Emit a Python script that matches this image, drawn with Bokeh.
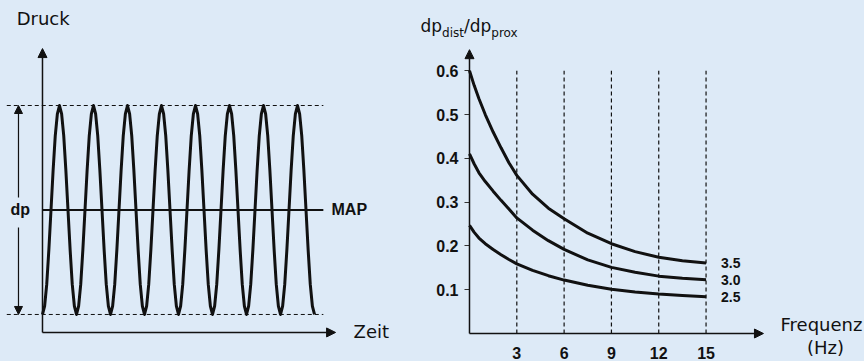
import numpy as np
from bokeh.plotting import figure
from bokeh.models import Range1d, Arrow, NormalHead, Label, FixedTicker, LinearAxis, GlobalInlineStyleSheet
from bokeh.layouts import row
from bokeh.embed import file_html
from bokeh.resources import INLINE
from bokeh.core.properties import value

# ---------------- data: left panel (pressure oscillation around MAP) ----------------
PRESSURE_CYCLE = [-1.0, -0.92, -0.71, -0.38, 0.0, 0.38, 0.71, 0.92,
                  1.0, 0.92, 0.71, 0.38, 0.0, -0.38, -0.71, -0.92]
N_CYCLES = 8
MAP_LEVEL = 0.0
P_MAX = 1.0
P_MIN = -1.0

# ---------------- data: right panel (dp_dist/dp_prox vs frequency) ----------------
FREQ = [0, 0.3, 0.6, 1, 1.5, 2, 2.5, 3, 4, 5, 6, 7.5, 9, 10.5, 12, 13.5, 15]
RATIO_35 = [0.600, 0.566, 0.536, 0.500, 0.460, 0.424, 0.390, 0.361, 0.318, 0.286,
            0.262, 0.229, 0.205, 0.187, 0.174, 0.166, 0.161]
RATIO_30 = [0.410, 0.387, 0.367, 0.347, 0.325, 0.304, 0.284, 0.264, 0.236, 0.212,
            0.192, 0.168, 0.151, 0.140, 0.131, 0.126, 0.123]
RATIO_25 = [0.247, 0.231, 0.218, 0.205, 0.192, 0.180, 0.169, 0.159, 0.144, 0.132,
            0.122, 0.110, 0.101, 0.095, 0.090, 0.087, 0.084]
CURVE_LABELS = ["3.5", "3.0", "2.5"]
FREQ_TICKS = [3, 6, 9, 12, 15]
RATIO_TICKS = [0.1, 0.2, 0.3, 0.4, 0.5, 0.6]

# ---------------- styles ----------------
BG = "#DDEAF7"
INK = "#111111"
REG_FONT = "DejaVu Sans"
BOLD_FONT = "Liberation Sans"


def head(size=9):
    return NormalHead(size=size, fill_color=INK, line_color=INK, line_width=1)


# ======================= left figure =======================
p_vals = np.append(np.tile(PRESSURE_CYCLE, N_CYCLES), PRESSURE_CYCLE[0])
t_vals = np.arange(len(p_vals)) / len(PRESSURE_CYCLE)

p1 = figure(width=390, height=361, x_range=Range1d(-1.235, 10.235), y_range=Range1d(-1.450, 2.005),
            x_axis_type=None, y_axis_type=None, output_backend="svg", toolbar_location=None,
            min_border=0, background_fill_color=BG, border_fill_color=BG, outline_line_color=None)

for lvl in (P_MAX, P_MIN):
    p1.line([-1.05, 8.26], [lvl, lvl], line_color=INK, line_width=1, line_dash="4 3")
p1.line([0, 8.26], [MAP_LEVEL, MAP_LEVEL], line_color=INK, line_width=2)
p1.line(t_vals, p_vals, line_color=INK, line_width=3, line_join="round")

p1.add_layout(Arrow(end=head(), x_start=0, y_start=-1.172, x_end=0, y_end=1.545,
                    line_color=INK, line_width=1.5))
p1.add_layout(Arrow(end=head(), x_start=0, y_start=-1.172, x_end=8.62, y_end=-1.172,
                    line_color=INK, line_width=1.5))
p1.add_layout(Arrow(end=head(8), x_start=-0.706, y_start=0.12, x_end=-0.706, y_end=P_MAX,
                    line_color=INK, line_width=1.2))
p1.add_layout(Arrow(end=head(8), x_start=-0.706, y_start=-0.167, x_end=-0.706, y_end=P_MIN,
                    line_color=INK, line_width=1.2))

p1.add_layout(Label(x=-0.76, y=1.833, text="Druck", text_font=REG_FONT, text_font_size="18px",
                    text_color=INK, text_align="left", text_baseline="middle"))
p1.add_layout(Label(x=9.15, y=-1.163, text="Zeit", text_font=REG_FONT, text_font_size="18px",
                    text_color=INK, text_align="left", text_baseline="middle"))
p1.add_layout(Label(x=8.5, y=MAP_LEVEL, text="MAP", text_font=BOLD_FONT, text_font_size="16px",
                    text_font_style="bold", text_color=INK, text_align="left", text_baseline="middle"))
p1.add_layout(Label(x=-0.94, y=MAP_LEVEL, text="dp", text_font=BOLD_FONT, text_font_size="16px",
                    text_font_style="bold", text_color=INK, text_align="left", text_baseline="middle"))

# ======================= right figure =======================
p2 = figure(width=474, height=361, x_range=Range1d(-5.009, 25.047), y_range=Range1d(-0.0639, 0.7603),
            x_axis_type=None, y_axis_type=None, output_backend="svg", toolbar_location=None,
            min_border=0, background_fill_color=BG, border_fill_color=BG, outline_line_color=None)

xaxis = LinearAxis(fixed_location=0, ticker=FixedTicker(ticks=FREQ_TICKS))
yaxis = LinearAxis(fixed_location=0, ticker=FixedTicker(ticks=RATIO_TICKS))
for ax in (xaxis, yaxis):
    ax.axis_line_color = None
    ax.minor_tick_line_color = None
    ax.major_label_text_font = BOLD_FONT
    ax.major_label_text_font_style = "bold"
    ax.major_label_text_font_size = "16px"
    ax.major_label_text_color = INK
xaxis.major_tick_line_color = None
xaxis.major_label_standoff = 7
yaxis.major_tick_line_color = "#333333"
yaxis.major_tick_out = 5
yaxis.major_tick_in = 0
yaxis.major_label_standoff = 6
p2.add_layout(xaxis, "below")
p2.add_layout(yaxis, "left")

p2.segment(x0=FREQ_TICKS, y0=[0] * len(FREQ_TICKS), x1=FREQ_TICKS, y1=[max(RATIO_TICKS)] * len(FREQ_TICKS),
           line_color=INK, line_width=1.2, line_dash="4 3")

for ys in (RATIO_35, RATIO_30, RATIO_25):
    p2.line(FREQ, ys, line_color=INK, line_width=3)

p2.text(x=[FREQ[-1]] * 3, y=[RATIO_35[-1], RATIO_30[-1], RATIO_25[-1]], text=CURVE_LABELS,
        x_offset=15, text_font=value(BOLD_FONT), text_font_style="bold", text_font_size="14px",
        text_color=INK, text_align="left", text_baseline="middle")

p2.add_layout(Arrow(end=head(), x_start=0, y_start=0, x_end=0, y_end=0.648,
                    line_color=INK, line_width=1.5))
p2.add_layout(Arrow(end=head(), x_start=0, y_start=0, x_end=18.64, y_end=0,
                    line_color=INK, line_width=1.5))

p2.add_layout(Label(x=22.32, y=0.0205, text="Frequenz", text_font=REG_FONT, text_font_size="18px",
                    text_color=INK, text_align="center", text_baseline="middle"))
p2.add_layout(Label(x=22.57, y=-0.032, text="(Hz)", text_font=REG_FONT, text_font_size="18px",
                    text_color=INK, text_align="center", text_baseline="middle"))

for xx, yy, txt, size in [(-3.107, 0.703, "dp", "17px"), (-1.737, 0.687, "dist", "12px"),
                          (-0.349, 0.703, "/", "17px"), (0.013, 0.703, "dp", "17px"),
                          (1.382, 0.687, "prox", "12px")]:
    p2.add_layout(Label(x=xx, y=yy, text=txt, text_font=REG_FONT, text_font_size=size,
                        text_color=INK, text_align="left", text_baseline="alphabetic"))

layout = row(p1, p2, stylesheets=[GlobalInlineStyleSheet(css="html, body { background-color: #DDEAF7; }")])

open("out.html", "w").write(file_html(layout, INLINE))
